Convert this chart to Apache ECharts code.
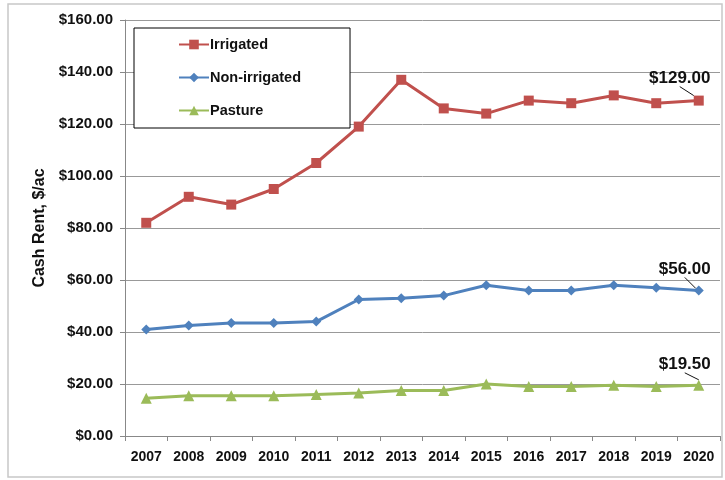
<!DOCTYPE html>
<html><head><meta charset="utf-8">
<script src="https://cdn.jsdelivr.net/npm/echarts@6/dist/echarts.min.js"></script>
<style>html,body{margin:0;padding:0;background:#fff}#c{width:725px;height:480px}</style>
</head><body><div id="c"></div>
<script>
const years = ['2007','2008','2009','2010','2011','2012','2013','2014','2015','2016','2017','2018','2019','2020'];
const irrigated = [82,92,89,95,105,119,137,126,124,129,128,131,128,129];
const nonIrrigated = [41,42.5,43.5,43.5,44,52.5,53,54,58,56,56,58,57,56];
const pasture = [14.5,15.5,15.5,15.5,16,16.5,17.5,17.5,20,19,19,19.5,19,19.5];
const yTicks = [0,20,40,60,80,100,120,140,160];

const FONT = 'Liberation Sans';
function lastLabel(arr){
  return arr.map((v,i)=> i===arr.length-1 ? {value:v, label:{show:true, formatter:'$'+v.toFixed(2)}} : v);
}
const labelCommon = {show:false, position:'top', color:'#111', fontWeight:'bold', fontSize:17, fontFamily:FONT};
const chart = echarts.init(document.getElementById('c'));
chart.setOption({
  animation:false,
  textStyle:{fontFamily:FONT},
  graphic:[{type:'rect', shape:{x:8,y:4,width:714,height:473}, style:{fill:'none', stroke:'#c8c8c8', lineWidth:1.5}}],
  grid:{left:125,right:5,top:20,bottom:44},
  legend:{
    orient:'vertical', left:134, top:28,
    padding:[9,49,10,44], itemGap:18, itemWidth:30, itemHeight:12,
    borderColor:'#000', borderWidth:1, backgroundColor:'#fff',
    textStyle:{fontWeight:'bold', fontSize:14.5, color:'#111', fontFamily:FONT, padding:[0,0,0,-4]},
    data:['Irrigated','Non-irrigated','Pasture']
  },
  xAxis:{
    type:'category', data:years, boundaryGap:true,
    axisLine:{lineStyle:{color:'#888'}},
    axisTick:{show:true, interval:0, length:5, lineStyle:{color:'#888'}},
    axisLabel:{interval:0, fontWeight:'bold', fontSize:14, color:'#111', margin:14}
  },
  yAxis:{
    type:'value', min:0, max:160, interval:20,
    name:'Cash Rent, $/ac', nameLocation:'middle', nameGap:75,
    nameTextStyle:{fontWeight:'bold', fontSize:16, color:'#111'},
    axisLine:{show:true, lineStyle:{color:'#888'}},
    axisTick:{show:true, length:5, lineStyle:{color:'#888'}},
    splitLine:{lineStyle:{color:'#999', width:1}},
    axisLabel:{fontWeight:'bold', fontSize:15, color:'#111', margin:12,
      formatter:v=> yTicks.includes(v) ? '$'+v.toFixed(2) : ''}
  },
  series:[
    {name:'Irrigated', type:'line', data:lastLabel(irrigated), symbol:'rect', symbolSize:10,
     lineStyle:{width:3, color:'#C0504D'}, itemStyle:{color:'#C0504D'},
     label:labelCommon, labelLayout:{dx:-19, dy:-4}, labelLine:{show:true, lineStyle:{color:'#111', width:1}}},
    {name:'Non-irrigated', type:'line', data:lastLabel(nonIrrigated), symbol:'diamond', symbolSize:10,
     lineStyle:{width:3, color:'#4F81BD'}, itemStyle:{color:'#4F81BD'},
     label:labelCommon, labelLayout:{dx:-14, dy:-3}, labelLine:{show:true, lineStyle:{color:'#111', width:1}}},
    {name:'Pasture', type:'line', data:lastLabel(pasture), symbol:'triangle', symbolSize:11,
     lineStyle:{width:3, color:'#9BBB59'}, itemStyle:{color:'#9BBB59'},
     label:labelCommon, labelLayout:{dx:-14, dy:-2}, labelLine:{show:true, lineStyle:{color:'#111', width:1}}}
  ]
});
</script></body></html>
